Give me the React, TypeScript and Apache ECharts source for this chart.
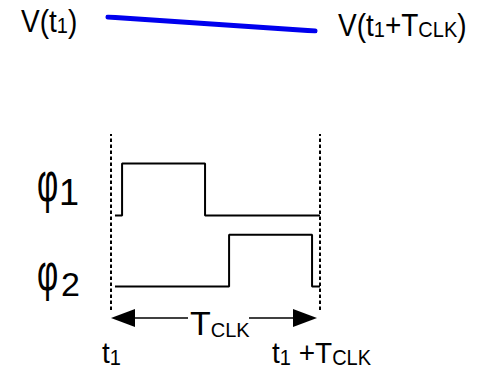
import React, { useEffect, useRef } from "react";
import * as echarts from "echarts";

// Clock period normalised to 0..100 (t1 = 0, t1+TCLK = 100)
const phi1Edges = [1.9, 5.3, 45.0, 100]; // start, rise, fall, end
const phi2Edges = [1.9, 56.5, 96.2, 100];
const phi1Low = 1.4;
const phi2Low = 0;
const pulseHigh = 1.02;
const periodMarks = [0, 100];
// droop of the held voltage between t1 and t1+TCLK
const vTimes = [0, 1];
const vValues = [1, 0];

const FONT = "'Liberation Sans', Arial, sans-serif";

function pulse(edges: number[], low: number): number[][] {
  const [s, r, f, e] = edges;
  return [
    [s, low],
    [r, low],
    [r, low + pulseHigh],
    [f, low + pulseHigh],
    [f, low],
    [e, low],
  ];
}

export default function App() {
  const ref = useRef<HTMLDivElement>(null);
  useEffect(() => {
    if (!ref.current) return;
    const chart = echarts.init(ref.current, null, { renderer: "svg" });
    const sub = (fs: number, lh: number) => ({
      fontSize: fs,
      lineHeight: lh,
      verticalAlign: "bottom",
      fontFamily: FONT,
      fill: "#000",
    });
    const main = (fs: number) => ({
      fontSize: fs,
      lineHeight: fs,
      fontFamily: FONT,
      fill: "#000",
    });
    const label = (
      x: number,
      y: number,
      text: string,
      mfs: number,
      sfs: number,
      slh: number,
      k = 1
    ) => ({
      type: "text",
      x,
      y,
      scaleY: k,
      style: {
        text,
        fill: "#000",
        font: `${mfs}px ${FONT}`,
        verticalAlign: "top",
        align: "left",
        rich: { m: main(mfs), s: sub(sfs, slh) },
      },
    });
    const plain = (x: number, y: number, text: string, fs: number, ky = 1, kx = 1) => ({
      type: "text",
      x,
      y,
      scaleX: kx,
      scaleY: ky,
      style: {
        text,
        fill: "#000",
        font: `${fs}px ${FONT}`,
        verticalAlign: "middle",
        align: "left",
      },
    });
    chart.setOption({
      animation: false,
      backgroundColor: "#fff",
      grid: [
        { left: 111, top: 134, width: 209, height: 176 },
        { left: 108, top: 17, width: 207, height: 14 },
      ],
      xAxis: [
        { type: "value", min: 0, max: 100, show: false, gridIndex: 0 },
        { type: "value", min: 0, max: 1, show: false, gridIndex: 1 },
      ],
      yAxis: [
        { type: "value", min: -0.46, max: 3.0, show: false, gridIndex: 0 },
        { type: "value", min: 0, max: 1, show: false, gridIndex: 1 },
      ],
      series: [
        {
          type: "line",
          xAxisIndex: 0,
          yAxisIndex: 0,
          data: pulse(phi1Edges, phi1Low),
          symbol: "none",
          lineStyle: { color: "#000", width: 2 },
        },
        {
          type: "line",
          xAxisIndex: 0,
          yAxisIndex: 0,
          data: pulse(phi2Edges, phi2Low),
          symbol: "none",
          lineStyle: { color: "#000", width: 2 },
          markLine: {
            silent: true,
            symbol: "none",
            label: { show: false },
            lineStyle: { color: "#000", width: 2, type: [3.5, 2.5] },
            data: periodMarks.map((v) => ({ xAxis: v })),
          },
        },
        {
          type: "line",
          xAxisIndex: 1,
          yAxisIndex: 1,
          data: vTimes.map((t, i) => [t, vValues[i]]),
          symbol: "none",
          lineStyle: { color: "#0000ee", width: 5, cap: "round" },
        },
      ],
      graphic: [
        label(21, 5.8, "{m|V(t}{s|1}{m|)}", 28, 20, 15, 1.1),
        label(338, 9.8, "{m|V(t}{s|1}{m|+T}{s|CLK}{m|)}", 28, 20, 15, 1.1),
        plain(37, 181, "φ", 40, 1.4, 0.82),
        plain(59, 192, "1", 36),
        plain(37, 272.5, "φ", 40, 1.3, 0.82),
        plain(61, 283.5, "2", 34),
        label(190, 306, "{m|T}{s|CLK}", 34, 20, 17),
        label(102, 337.3, "{m|t}{s|1}", 28, 20, 13, 1.08),
        label(272, 337.3, "{m|t}{s|1}{m| +T}{s|CLK}", 28, 20, 13, 1.08),
        { type: "line", shape: { x1: 130, y1: 318, x2: 188, y2: 318 }, style: { stroke: "#000", lineWidth: 1.5 } },
        { type: "line", shape: { x1: 249, y1: 318, x2: 298, y2: 318 }, style: { stroke: "#000", lineWidth: 1.5 } },
        { type: "polygon", shape: { points: [[111, 318], [135, 309], [135, 327]] }, style: { fill: "#000" } },
        { type: "polygon", shape: { points: [[317, 318], [293, 309], [293, 327]] }, style: { fill: "#000" } },
      ],
    });
    return () => chart.dispose();
  }, []);
  return (
    <div
      ref={ref}
      style={{ position: "fixed", left: 0, top: 0, width: 481, height: 371, background: "#fff" }}
    />
  );
}
